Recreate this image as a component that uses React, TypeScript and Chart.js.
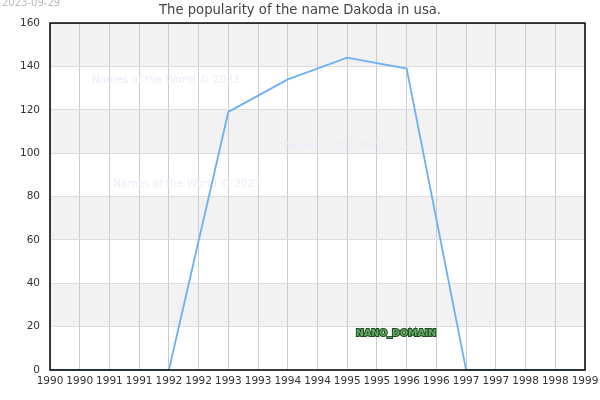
import React, { useEffect, useRef } from 'react';
import { Chart, registerables, Plugin } from 'chart.js';

Chart.register(...registerables);

// yearly counts of the name
const years = [1990, 1991, 1992, 1993, 1994, 1995, 1996, 1997, 1998, 1999];
const counts = [0, 0, 0, 119, 134, 144, 139, 0, 0, 0];

// ticks every half year, labelled with the whole year
const xTickLabels = [
  '1990', '1990', '1991', '1991', '1992', '1992', '1993', '1993', '1994', '1994',
  '1995', '1995', '1996', '1996', '1997', '1997', '1998', '1998', '1999',
];
const yTicks = [0, 20, 40, 60, 80, 100, 120, 140, 160];

const titleText = 'The popularity of the name Dakoda in usa.';
const dateText = '2023-09-29';
const watermarkText = 'Names of the World © 2023';
const stampText = 'NANO_DOMAIN';

const FONT = "'DejaVu Sans', sans-serif";

const decorPlugin: Plugin = {
  id: 'decor',
  beforeDraw(chart) {
    const { ctx, chartArea } = chart;
    const y = chart.scales.y;
    ctx.save();
    // alternate grey bands
    ctx.fillStyle = '#f2f2f2';
    for (let i = 1; i < yTicks.length; i += 2) {
      const top = y.getPixelForValue(yTicks[i + 1] ?? yTicks[i]);
      const bottom = y.getPixelForValue(yTicks[i]);
      ctx.fillRect(chartArea.left, top, chartArea.right - chartArea.left, bottom - top);
    }
    // date in the corner
    ctx.font = `10px ${FONT}`;
    ctx.fillStyle = '#bbbbbb';
    ctx.textBaseline = 'middle';
    ctx.textAlign = 'left';
    ctx.fillText(dateText, 2, 3);
    ctx.restore();
  },
  beforeDatasetsDraw(chart) {
    const { ctx, chartArea } = chart;
    const w = chartArea.right - chartArea.left;
    const h = chartArea.bottom - chartArea.top;
    ctx.save();
    ctx.font = `10.5px ${FONT}`;
    ctx.fillStyle = '#ececfb';
    ctx.textBaseline = 'middle';
    ctx.textAlign = 'left';
    ctx.fillText(watermarkText, chartArea.left + w * 0.078, chartArea.top + h * 0.164);
    ctx.fillText(watermarkText, chartArea.left + w * 0.437, chartArea.top + h * 0.352);
    ctx.fillText(watermarkText, chartArea.left + w * 0.118, chartArea.top + h * 0.464);
    ctx.restore();
  },
  afterDraw(chart) {
    const { ctx, chartArea } = chart;
    const w = chartArea.right - chartArea.left;
    const h = chartArea.bottom - chartArea.top;
    ctx.save();
    ctx.strokeStyle = '#000000';
    ctx.lineWidth = 1.5;
    ctx.strokeRect(chartArea.left, chartArea.top, w, h);
    ctx.font = `bold 9.5px ${FONT}`;
    ctx.textAlign = 'center';
    ctx.textBaseline = 'middle';
    ctx.lineWidth = 2;
    ctx.strokeStyle = '#1d4a21';
    const sx = chartArea.left + w * 0.647;
    const sy = chartArea.top + h * 0.896;
    ctx.strokeText(stampText, sx, sy);
    ctx.fillStyle = '#62a862';
    ctx.fillText(stampText, sx, sy);
    ctx.restore();
  },
};

export default function App() {
  const canvasRef = useRef<HTMLCanvasElement | null>(null);

  useEffect(() => {
    if (!canvasRef.current) return;
    const chart = new Chart(canvasRef.current, {
      type: 'line',
      data: {
        datasets: [
          {
            label: 'Dakoda',
            data: years.map((yr, i) => ({ x: yr, y: counts[i] })),
            borderColor: '#6cb0f5',
            borderWidth: 1.8,
            pointRadius: 0,
            fill: false,
            tension: 0,
          },
        ],
      },
      options: {
        animation: false,
        responsive: false,
        devicePixelRatio: 1,
        layout: { padding: 0 },
        plugins: {
          legend: { display: false },
          tooltip: { enabled: false },
          title: {
            display: true,
            text: titleText,
            color: '#444444',
            font: { family: FONT, size: 13.2, weight: 'normal' },
            padding: { top: 3, bottom: 4.2 },
          },
        },
        scales: {
          x: {
            type: 'linear',
            min: years[0],
            max: years[years.length - 1],
            afterBuildTicks: (axis) => {
              axis.ticks = xTickLabels.map((_, i) => ({ value: years[0] + i * 0.5 }));
            },
            afterFit: (axis) => {
              axis.height = 30;
              axis.paddingLeft = 0;
              axis.paddingRight = 15;
            },
            grid: { color: '#cccccc', lineWidth: 1, drawTicks: false },
            border: { display: false },
            ticks: {
              color: '#333333',
              font: { family: FONT, size: 10.5 },
              padding: 5,
              maxRotation: 0,
              autoSkip: false,
              callback: (_v, i) => xTickLabels[i],
            },
          },
          y: {
            min: yTicks[0],
            max: yTicks[yTicks.length - 1],
            afterBuildTicks: (axis) => {
              axis.ticks = yTicks.map((v) => ({ value: v }));
            },
            afterFit: (axis) => {
              axis.width = 50;
            },
            grid: { color: '#dddddd', lineWidth: 1, drawTicks: false },
            border: { display: false },
            ticks: {
              color: '#333333',
              font: { family: FONT, size: 10.5 },
              padding: 10,
              callback: (v) => String(v),
            },
          },
        },
      },
      plugins: [decorPlugin],
    });
    return () => chart.destroy();
  }, []);

  return (
    <div style={{ position: 'fixed', left: 0, top: 0, width: 600, height: 400, background: '#ffffff' }}>
      <canvas ref={canvasRef} width={600} height={400} />
    </div>
  );
}
